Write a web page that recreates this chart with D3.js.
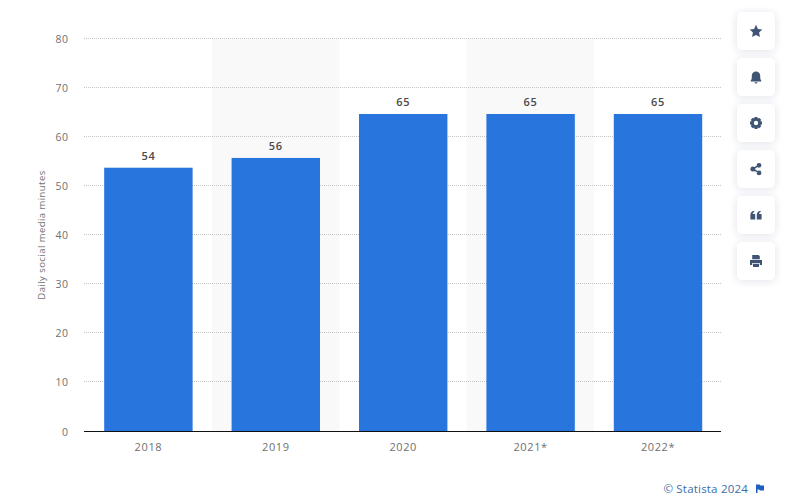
<!DOCTYPE html>
<html><head><meta charset="utf-8">
<script src="https://cdn.jsdelivr.net/npm/d3@7/dist/d3.min.js"></script>
<style>
html,body{margin:0;padding:0;background:#fff;overflow:hidden}
svg{display:block}
text{font-family:"Open Sans",sans-serif}
</style></head><body>
<svg id="c" width="785" height="502"></svg>
<script>
const categories=["2018","2019","2020","2021*","2022*"];
const values=[54,56,65,65,65];
const yTicks=[0,10,20,30,40,50,60,70,80];
const yTitle="Daily social media minutes";
const credit="© Statista 2024";
const tools=["star","bell","gear","share","quote","print"];

const svg=d3.select("#c");
const defs=svg.append("defs");
const f=defs.append("filter").attr("id","sh").attr("x","-40%").attr("y","-40%").attr("width","180%").attr("height","180%");
f.append("feDropShadow").attr("dx",0).attr("dy",1).attr("stdDeviation",3.5).attr("flood-color","#3c5078").attr("flood-opacity",0.16);

const x=d3.scaleBand().domain(categories).range([84.7,721.7]).paddingInner(0.306).paddingOuter(0.153);
const band=d3.scaleBand().domain(categories).range([84.5,721.5]);
const y=d3.scaleLinear().domain([0,80]).range([431.5,39]);
// the reference's bars sit on a very slightly shorter scale than its gridlines
const yBar=d3.scaleLinear().domain([0,80]).range([431.5,40.7]);

// alternating background
svg.append("g").selectAll("rect").data(categories.filter((d,i)=>i%2==1)).join("rect")
  .attr("x",d=>band(d)).attr("width",band.bandwidth()).attr("y",y(80)).attr("height",y(0)-y(80)).attr("fill","#f9f9f9");

// grid
svg.append("g").selectAll("line").data(yTicks.filter(d=>d>0)).join("line")
  .attr("x1",84).attr("x2",721).attr("y1",d=>Math.round(y(d))-0.5).attr("y2",d=>Math.round(y(d))-0.5)
  .attr("stroke","#c6c6c6").attr("stroke-width",1).attr("stroke-dasharray","1 1");

// y labels
svg.append("g").selectAll("text").data(yTicks).join("text")
  .attr("x",68.5).attr("y",d=>y(d)+4).attr("text-anchor","end")
  .attr("font-size",10.5).attr("letter-spacing",0.5).attr("fill","#707070").text(d=>d);

svg.append("text").attr("transform","translate(45,235) rotate(-90)").attr("text-anchor","middle")
  .attr("font-size",9.5).attr("letter-spacing",0.45).attr("fill","#707070").text(yTitle);

// bars
svg.append("g").selectAll("rect").data(categories).join("rect")
  .attr("x",d=>x(d)).attr("width",x.bandwidth())
  .attr("y",(d,i)=>yBar(values[i])).attr("height",(d,i)=>yBar(0)-yBar(values[i])).attr("fill","#2875dd");

// value labels
svg.append("g").selectAll("text").data(categories).join("text")
  .attr("x",d=>x(d)+x.bandwidth()/2).attr("y",(d,i)=>yBar(values[i])-8).attr("text-anchor","middle")
  .attr("font-size",11).attr("font-weight",600).attr("letter-spacing",0.7).attr("fill","#4a4a4a").text((d,i)=>values[i]);

// axis
svg.append("line").attr("x1",84).attr("x2",721).attr("y1",431.5).attr("y2",431.5).attr("stroke","#111").attr("stroke-width",1);
svg.append("g").selectAll("text").data(categories).join("text")
  .attr("x",d=>x(d)+x.bandwidth()/2).attr("y",451).attr("text-anchor","middle")
  .attr("font-size",11).attr("letter-spacing",0.6).attr("fill","#707070").text(d=>d);

// credit
svg.append("text").attr("x",748).attr("y",492.5).attr("text-anchor","end")
  .attr("font-size",11.5).attr("letter-spacing",0.2).attr("fill","#3b6ea8").text(credit);
svg.append("path").attr("d","M756 484.5h3.5l1 1h3.5v5h-4l-1-1h-1.5v3.5h-1.5z").attr("fill","#1f5fbf");

// tool buttons
const ink="#3f5573";
const glyphs={
 star:"M0-6.2L1.9-2.1 6.3-1.5 3.1 1.6 3.9 6 0 3.9-3.9 6-3.1 1.6-6.3-1.5-1.9-2.1Z",
 bell:"M-5.2 3.6C-4 2.4-4.2 0-4.2-1.4-4.2-3.8-2.4-5.6 0-5.6S4.2-3.8 4.2-1.4C4.2 0 4 2.4 5.2 3.6V4.4H-5.2ZM-1.6 5.3H1.6C1.4 6.2.7 6.6 0 6.6S-1.4 6.2-1.6 5.3Z",
 gear:"M-1.4-6H1.4L1.8-4.4 3.3-5.1 5.2-3.2 4.4-1.8 6-1.4V1.4L4.4 1.8 5.2 3.2 3.2 5.2 1.8 4.4 1.4 6H-1.4L-1.8 4.4-3.2 5.2-5.2 3.2-4.4 1.8-6 1.4V-1.4L-4.4-1.8-5.2-3.2-3.2-5.2-1.8-4.4ZM0-2.2A2.2 2.2 0 1 0 0 2.2 2.2 2.2 0 1 0 0-2.2Z",
 share:"M-5.6 0A2.5 2.5 0 1 1-.6 0 2.5 2.5 0 1 1-5.6 0ZM.6-3.7A2.4 2.4 0 1 1 5.4-3.7 2.4 2.4 0 1 1 .6-3.7ZM.6 3.9A2.4 2.4 0 1 1 5.4 3.9 2.4 2.4 0 1 1 .6 3.9ZM-3.2-.8L2.6-4.4 3.2-3-2.6.6ZM-2.6-.6L3.2 3 2.6 4.4-3.2.8Z",
 quote:"M-5.6 4.4V.2C-5.6-2-4.4-3.8-2-4.2L-1.6-3C-2.8-2.6-3.3-1.8-3.3-.9H-.8V4.4ZM.8 4.4V.2C.8-2 2-3.8 4.4-4.2L4.8-3C3.6-2.6 3.1-1.8 3.1-.9H5.6V4.4Z",
 print:"M-3.8-6H2.6L3.8-4.8V-1.8H-3.8ZM-6-1H6V4H3.8V2H-3.8V4H-6ZM-3 2.8H3V6H-3Z"
};
const btn=svg.append("g").selectAll("g").data(tools).join("g")
  .attr("transform",(d,i)=>`translate(756,${d3.scaleLinear().domain([0,5]).range([31,261])(i)})`);
btn.append("rect").attr("x",-19).attr("y",-19).attr("width",38).attr("height",38).attr("rx",5)
  .attr("fill","#fff").attr("filter","url(#sh)");
btn.append("path").attr("d",d=>glyphs[d]).attr("fill",ink).attr("fill-rule",d=>d==="gear"?"evenodd":"nonzero");
</script></body></html>
